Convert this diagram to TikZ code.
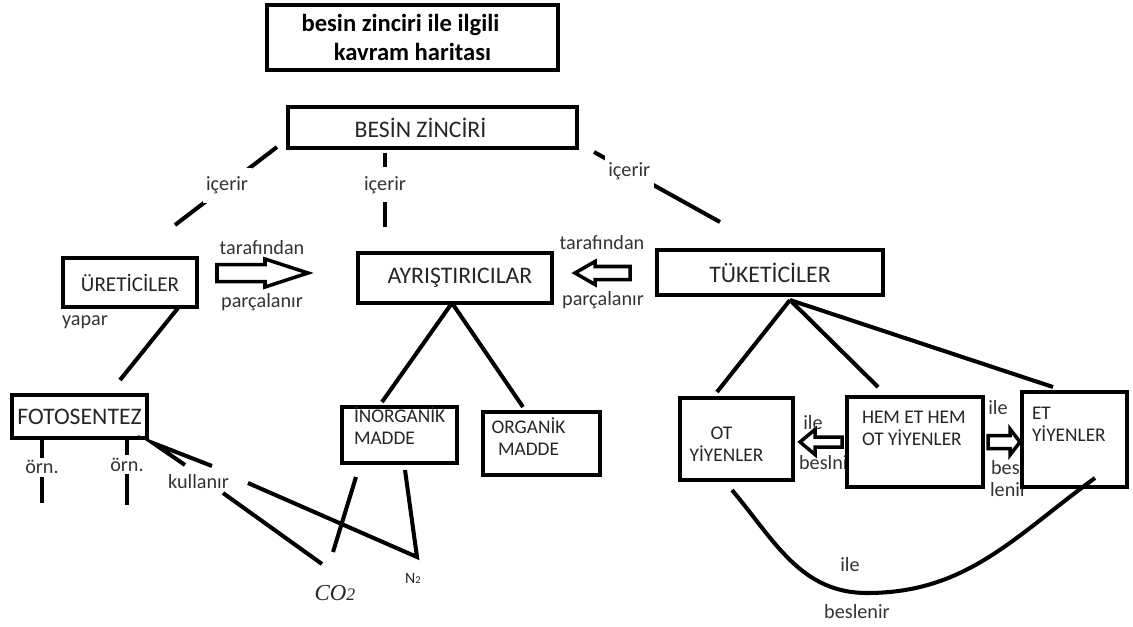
\documentclass[tikz,border=0pt]{standalone}
\usepackage{fontspec}
\setmainfont{Carlito}
\newfontfamily\timesfont{Liberation Serif}
\newcommand{\boxfont}{\fontsize{13.5}{16}\selectfont}
\newcommand{\midfont}{\fontsize{11}{12.6}\selectfont}
\newcommand{\lblfont}{\fontsize{11.5}{13}\selectfont}
\newcommand{\titlefont}{\fontsize{14}{17}\selectfont\bfseries}
% hollow block arrow: tail, direction, length, shaft half, head half, head length
\newcommand{\hollowarrow}[6]{%
  \draw[blockarrow, shift={(#1)}, xscale=#2] (0,-#4) -- (#3-#6,-#4) -- (#3-#6,-#5)
    -- (#3,0) -- (#3-#6,#5) -- (#3-#6,#4) -- (0,#4) -- cycle;}
\tikzset{
  kbox/.style={draw, line width=2.6pt, fill=white, inner sep=0pt, font=\boxfont, text=black!85},
  mbox/.style={kbox, font=\midfont},
  conn/.style={line width=2.3pt},
  lbl/.style={font=\lblfont, inner sep=1pt, text=black!80},
  gaplbl/.style={lbl, fill=white, inner xsep=2pt, inner ysep=5pt},
  orn/.style={lbl, fill=white, inner xsep=2pt, inner ysep=1.5pt},
  blockarrow/.style={line width=2pt, line join=miter},
}
\begin{document}
\begin{tikzpicture}
  \useasboundingbox (0,0) rectangle (22.66,-12.52);

  % these two sit partly under the boxes
  \node[lbl, anchor=west] (beslnir) at (15.94,-9.26) {beslnir};
  \node[lbl, anchor=west] (lenir) at (19.76,-9.80) {lenir};

  \begin{scope}
    \node[kbox, font=\titlefont, text=black, align=center, minimum width=5.82cm,
    minimum height=1.30cm] (title) at (8.25,-0.75) {besin zinciri ile
      ilgili\hspace*{0.48cm}\null\\kavram haritası};
    \node[kbox, minimum width=5.78cm, minimum height=0.82cm] (besin) at
    (8.65,-2.55) {BESİN ZİNCİRİ\hspace*{0.48cm}};
    \node[kbox, font=\fontsize{12}{14}\selectfont, minimum width=2.68cm,
    minimum height=0.98cm] (uret) at (2.60,-5.65) {ÜRETİCİLER};
    \node[kbox, minimum width=3.88cm, minimum height=1.00cm] (ayr) at
    (9.10,-5.56) {\hspace*{0.2cm}AYRIŞTIRICILAR};
    \node[kbox, minimum width=4.52cm, minimum height=0.90cm] (tuk) at
    (15.40,-5.45) {TÜKETİCİLER};
    \node[kbox, minimum width=2.70cm, minimum height=0.86cm] (foto) at
    (1.59,-8.33) {FOTOSENTEZ};
    \node[mbox] (inorg) at (7.99,-8.70) {\parbox[c][1.12cm][t]{2.30cm}{%
        \raggedright\hspace*{0.24cm}İNORGANİK\\\hspace*{0.24cm}MADDE}};
    \node[mbox] (org) at (10.83,-8.87) {\parbox[c][1.26cm][t]{2.34cm}{%
        \vspace*{0.12cm}\centering ORGANİK\hspace*{0.52cm}\null\\MADDE\hspace*{0.52cm}\null}};
    \node[mbox] (ot) at (14.73,-8.78) {\parbox[c][1.64cm][t]{2.26cm}{%
        \vspace*{0.57cm}\centering OT\hspace*{0.6cm}\null\\YİYENLER\hspace*{0.4cm}\null}};
    \node[mbox] (hem) at (18.30,-8.84) {\parbox[c][1.80cm][t]{2.72cm}{%
        \vspace*{0.28cm}\raggedright\hspace*{0.3cm}HEM ET HEM\\\hspace*{0.3cm}OT YİYENLER}};
    \node[mbox] (et) at (21.49,-8.79) {\parbox[c][1.90cm][t]{2.10cm}{%
        \vspace*{0.30cm}\raggedright\hspace*{0.2cm}ET\\\hspace*{0.2cm}YİYENLER}};
    \node[font=\timesfont\itshape\fontsize{13}{15}\selectfont, text=black!85]
    (co2) at (6.70,-11.86) {CO\fontsize{10}{12}\selectfont 2};
    \node[font=\fontsize{9}{11}\selectfont, text=black!85] (n2) at
    (8.26,-11.56) {N\fontsize{6}{7}\selectfont 2};
  \end{scope}

  \begin{scope}[conn]
    \coordinate (bl1) at (5.54,-2.94); \coordinate (bl2) at (3.50,-4.50);
    \coordinate (bm1) at (7.70,-3.06); \coordinate (bm2) at (7.70,-4.54);
    \coordinate (br1) at (11.88,-3.04); \coordinate (br2) at (14.40,-4.44);
    \draw (bl1) -- node[gaplbl, pos=0.49] (icL) {içerir} (bl2);
    \draw (bm1) -- node[gaplbl, pos=0.43] (icM) {içerir} (bm2);
    \draw (br1) -- node[gaplbl, pos=0.28] (icR) {içerir} (br2);

    \coordinate (u1) at (3.56,-6.16); \coordinate (u2) at (2.40,-7.60);
    \draw (u1) -- (u2);
    \coordinate (f1) at (0.84,-8.76); \coordinate (f1b) at (0.84,-10.06);
    \coordinate (f2) at (2.54,-8.76); \coordinate (f2b) at (2.54,-10.10);
    \draw (f1) -- node[orn, pos=0.45] (orn1) {örn.} (f1b);
    \draw (f2) -- node[orn, pos=0.40] (orn2) {örn.} (f2b);

    \coordinate (ayrp) at (9.04,-6.06);
    \draw (ayrp) -- (7.64,-8.04) coordinate (in1);
    \draw (ayrp) -- (10.46,-8.14) coordinate (org1);
    \coordinate (tukp) at (15.80,-6.00);
    \draw (tukp) -- (14.34,-7.84) coordinate (ot1);
    \draw (tukp) -- (17.56,-7.74) coordinate (hem1);
    \draw (tukp) -- (21.06,-7.74) coordinate (et1);

    % kullanir
    \coordinate (fotoc) at (3.06,-8.86);
    \coordinate (kA) at (3.70,-9.30); \coordinate (kB) at (4.24,-9.32);
    \draw[line join=miter] (kA) -- (fotoc) -- (kB);
    \coordinate (kc1) at (4.46,-9.86); \coordinate (kc2) at (6.44,-11.28);
    \draw (kc1) -- (kc2);
    \coordinate (kn1) at (4.96,-9.66); \coordinate (n2v) at (8.34,-11.14);
    \coordinate (in2) at (8.10,-9.40);
    \draw (kn1) -- (n2v) -- (in2);
    \coordinate (c1) at (6.66,-11.04); \coordinate (c2) at (7.12,-9.54);
    \draw (c1) -- (c2);

    \coordinate (otc) at (14.64,-9.80); \coordinate (curb) at (17.34,-11.86);
    \coordinate (etc) at (21.90,-9.56);
    \draw (otc) to[out=-50, in=180] (curb) to[out=0, in=-144] (etc);
  \end{scope}

  \coordinate (a1) at (4.34,-5.46); \coordinate (a2) at (12.60,-5.46);
  \coordinate (a3) at (16.84,-8.84); \coordinate (a4) at (19.76,-8.84);
  \hollowarrow{a1}{1}{1.82}{0.17}{0.28}{0.86}
  \hollowarrow{a2}{-1}{1.10}{0.13}{0.23}{0.40}
  \hollowarrow{a3}{-1}{0.84}{0.10}{0.25}{0.30}
  \hollowarrow{a4}{1}{0.64}{0.13}{0.26}{0.20}

  \node[lbl] (tarL) at (5.24,-4.96) {tarafından};
  \node[lbl] (parL) at (5.24,-6.04) {parçalanır};
  \node[lbl] (tarR) at (12.04,-4.86) {tarafından};
  \node[lbl] (parR) at (12.06,-6.00) {parçalanır};
  \node[lbl] (yapar) at (1.70,-6.44) {yapar};
  \node[lbl] (kul) at (3.97,-9.64) {kullanır};
  \node[lbl] (ileL) at (16.26,-8.46) {ile};
  \node[lbl] (ileR) at (19.96,-8.16) {ile};
  \node[lbl, anchor=west] (bes) at (19.78,-9.36) {bes};
  \node[lbl] (ileB) at (17.00,-11.30) {ile};
  \node[lbl] (beslenir) at (17.14,-12.24) {beslenir};
\end{tikzpicture}
\end{document}
